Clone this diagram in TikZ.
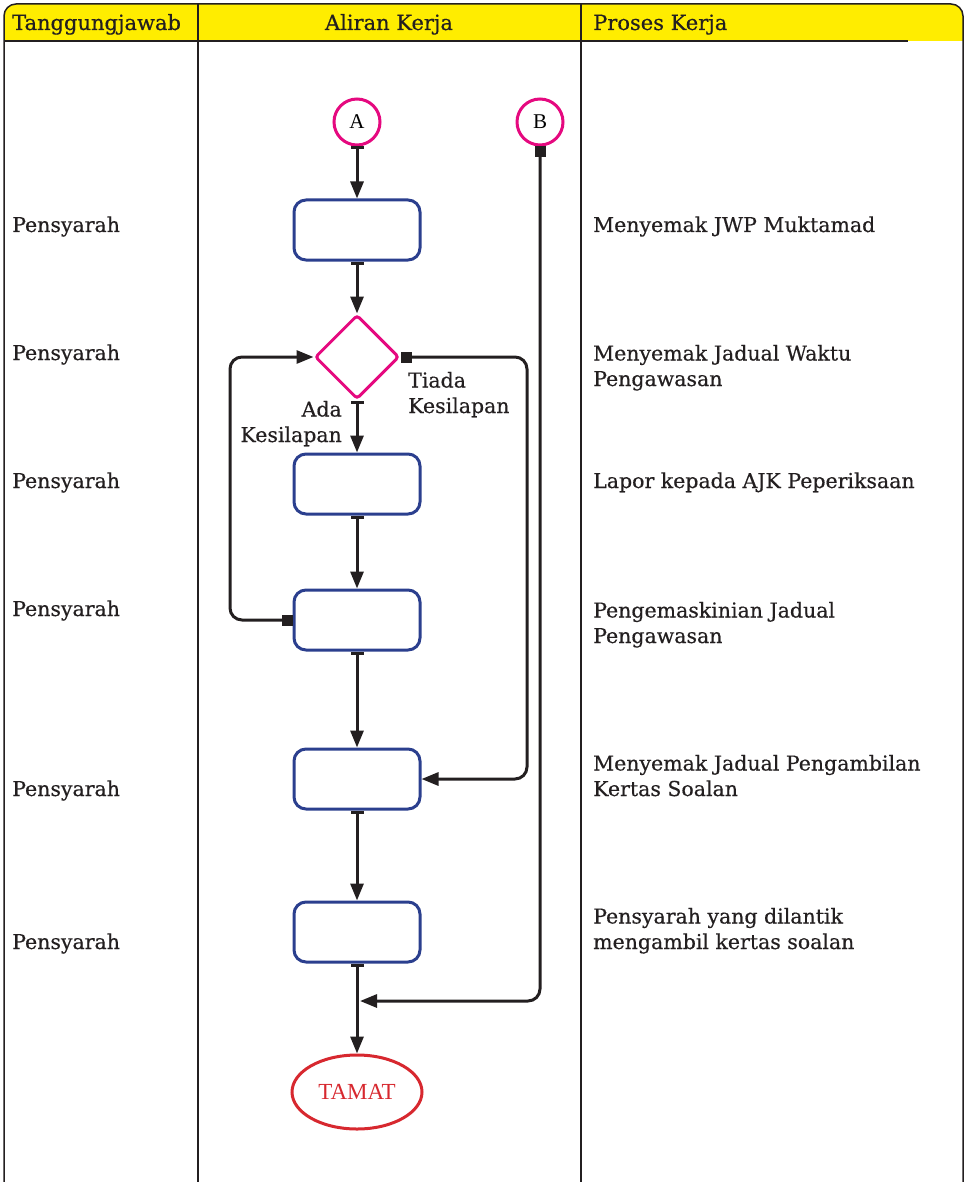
\documentclass[tikz,border=0pt]{standalone}
\usepackage{fontspec}
\setmainfont{DejaVu Serif}[FakeBold=0.5]
\newfontfamily\markfont{Liberation Serif}
\usetikzlibrary{positioning,shapes.geometric,arrows.meta}
\definecolor{hdryellow}{HTML}{FFED00}
\definecolor{conpink}{HTML}{E5097F}
\definecolor{taskblue}{HTML}{2B3F8E}
\definecolor{endred}{HTML}{D7282F}
\definecolor{ink}{HTML}{231F20}

\tikzset{
  txt/.style={font=\fontsize{20.5}{25.5}\selectfont, text=ink, anchor=base west, inner sep=0pt, align=left},
  hdr/.style={font=\fontsize{21}{23}\selectfont, text=ink, anchor=base, inner sep=0pt},
  connector/.style={circle, draw=conpink, line width=3pt, minimum size=46pt, inner sep=0pt, font=\markfont\fontsize{21}{21}\selectfont},
  task/.style={draw=taskblue, line width=3pt, rounded corners=12pt, minimum width=126pt, minimum height=60pt},
  check/.style={diamond, draw=conpink, line width=3pt, minimum size=84pt, inner sep=0pt, rounded corners=3pt},
  finish/.style={ellipse, draw=endred, line width=3pt, minimum width=130pt, minimum height=74pt, text=endred, font=\markfont\fontsize{23}{23}\selectfont},
  flow/.style={draw=ink, line width=3pt, arrows={Rectangle[length=3pt,width=13pt]-Triangle[length=17pt,width=13pt]}},
  sqflow/.style={draw=ink, line width=3pt, rounded corners=12pt, arrows={Square[length=11pt]-Triangle[length=17pt,width=13pt]}}
}

\begin{document}
\begin{tikzpicture}[x=1pt,y=-1pt]
  \useasboundingbox (0,0) rectangle (965,1182);
  \fill[hdryellow] (4,41) [rounded corners=12pt] -- (4,4) -- (963,4) [sharp corners] -- (963,41) -- cycle;
  \draw[ink, line width=1.5pt] (4,1182) [rounded corners=12pt] -- (4,4) -- (963,4) [sharp corners] -- (963,1182);
  \draw[ink, line width=1.5pt] (4,41) -- (908,41);
  \draw[ink, line width=1.2pt] (198,4) -- (198,1182) (581,4) -- (581,1182);

  \node[hdr, anchor=base west] (hresp) at (12,30) {Tanggungjawab};
  \node[hdr] (hflow) at (389,30) {Aliran Kerja};
  \node[hdr, anchor=base west] (hproc) at (593,30) {Proses Kerja};

  \node[connector] (A) at (357,122) {A};
  \node[connector] (B) [right=134pt of A] {B};
  \node[task] (box1) [below=52pt of A] {};
  \node[check] (dia) [below=52pt of box1] {};
  \node[task] (box2) [below=52pt of dia] {};
  \node[task] (box3) [below=73pt of box2] {};
  \node[task] (box4) [below=96pt of box3] {};
  \node[task] (box5) [below=90pt of box4] {};
  \node[finish] (tamat) [below=90pt of box5] {TAMAT};
  \coordinate[below=37.5pt of box5] (join);

  \draw[flow] (A.south) -- (box1.north);
  \draw[flow] (box1.south) -- (dia.north);
  \draw[flow] (dia.south) -- (box2.north);
  \draw[flow] (box2.south) -- (box3.north);
  \draw[flow] (box3.south) -- (box4.north);
  \draw[flow] (box4.south) -- (box5.north);
  \draw[flow] (box5.south) -- (tamat.north);
  \draw[sqflow] (box3.west) -- ++(-62.5,0) |- (dia.west);
  \draw[sqflow] (dia.east) -- ++(126.5,0) |- (box4.east);
  \draw[sqflow] (B.south) |- ([xshift=3pt]join);

  \node[txt] (tiada) at (408,413) {Tiada\\Kesilapan};
  \node[txt, anchor=base east, align=right] (ada) at (342,442) {Ada\\Kesilapan};

  \node[txt] (r1) at (12,232) {Pensyarah};
  \node[txt] (r2) at (12,360) {Pensyarah};
  \node[txt] (r3) at (12,488) {Pensyarah};
  \node[txt] (r4) at (12,616) {Pensyarah};
  \node[txt] (r5) at (12,796) {Pensyarah};
  \node[txt] (r6) at (12,949) {Pensyarah};

  \node[txt] (p1) at (593,232) {Menyemak JWP Muktamad};
  \node[txt] (p2) at (593,386) {Menyemak Jadual Waktu\\Pengawasan};
  \node[txt] (p3) at (593,488) {Lapor kepada AJK Peperiksaan};
  \node[txt] (p4) at (593,643) {Pengemaskinian Jadual\\Pengawasan};
  \node[txt] (p5) at (593,796) {Menyemak Jadual Pengambilan\\Kertas Soalan};
  \node[txt] (p6) at (593,949) {Pensyarah yang dilantik\\mengambil kertas soalan};
\end{tikzpicture}
\end{document}
